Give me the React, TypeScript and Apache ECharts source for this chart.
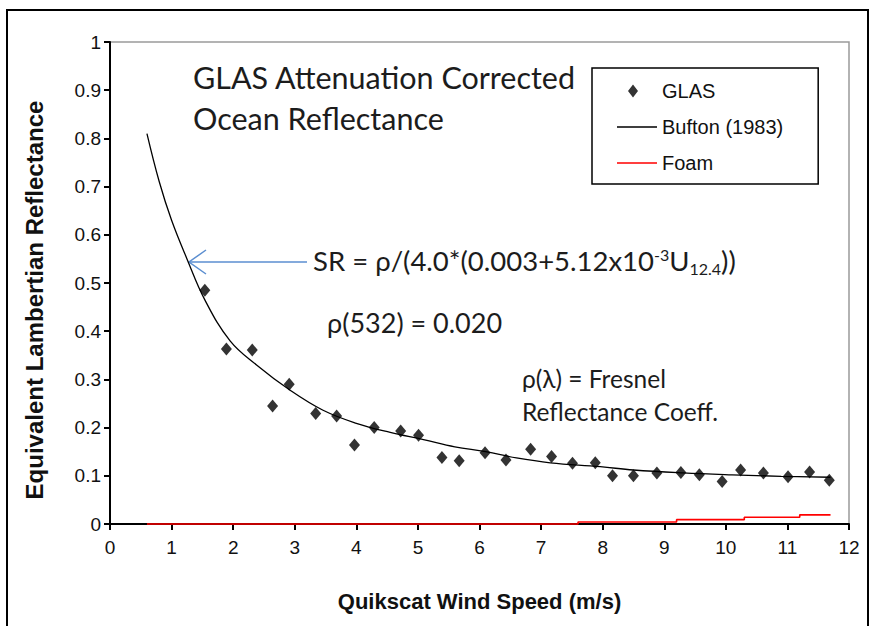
import React, { useEffect, useRef } from "react";
import * as echarts from "echarts";

// GLAS observations: [wind speed (m/s), reflectance]
const glasX = [1.54, 1.89, 2.31, 2.64, 2.91, 3.34, 3.68, 3.97, 4.29, 4.72, 5.01, 5.39, 5.67, 6.09, 6.43, 6.83, 7.17, 7.51, 7.88, 8.16, 8.5, 8.88, 9.27, 9.57, 9.94, 10.24, 10.61, 11.01, 11.36, 11.68];
const glasY = [0.485, 0.363, 0.361, 0.245, 0.29, 0.229, 0.224, 0.164, 0.2, 0.193, 0.184, 0.138, 0.131, 0.148, 0.133, 0.155, 0.14, 0.126, 0.127, 0.1, 0.1, 0.106, 0.107, 0.102, 0.088, 0.112, 0.106, 0.098, 0.108, 0.091];

// Bufton (1983) curve
const buftonX = [0.6, 0.8, 1.0, 1.25, 1.54, 1.95, 2.38, 2.92, 3.46, 4.0, 4.55, 5.09, 5.6, 6.1, 6.6, 7.15, 7.96, 8.5, 9.3, 10.1, 10.9, 11.7];
const buftonY = [0.81, 0.71, 0.63, 0.55, 0.465, 0.38, 0.33, 0.278, 0.236, 0.209, 0.19, 0.175, 0.16, 0.15, 0.137, 0.127, 0.119, 0.112, 0.106, 0.102, 0.099, 0.097];

// Foam curve
const foamX = [0.6, 7.6, 7.6, 9.2, 9.2, 10.3, 10.3, 11.2, 11.2, 11.7];
const foamY = [0, 0, 0.004, 0.004, 0.009, 0.009, 0.014, 0.014, 0.019, 0.019];

const xTicks = { min: 0, max: 12, interval: 1 };
const yTicks = { min: 0, max: 1, interval: 0.1 };

const zip = (xs: number[], ys: number[]) => xs.map((x, i) => [x, ys[i]]);

const TXT = "#1c1c1c";
const annFont = "Lato, 'Open Sans', sans-serif";
const axFont = "'Liberation Sans', Arial, sans-serif";

// legend icons: a full 40x14 bounding box so the drawn mark keeps its size
const lineIcon = "path://M0,0L0,0.01Z M0,6.3L40,6.3L40,7.7L0,7.7Z M40,14L40,13.99Z";
const diamondIcon = "path://M0,0L0,0.01Z M16,0.5L21,7L16,13.5L11,7Z M40,14L40,13.99Z";

export default function App() {
  const ref = useRef<HTMLDivElement>(null);
  useEffect(() => {
    if (!ref.current) return;
    const chart = echarts.init(ref.current, null, { renderer: "svg" });
    chart.setOption({
      animation: false,
      backgroundColor: "#fff",
      grid: {
        left: 110,
        right: 25,
        top: 42,
        bottom: 102,
        show: true,
        borderColor: "#9a9a9a",
        borderWidth: 1.5,
        backgroundColor: "transparent",
      },
      xAxis: {
        type: "value",
        ...xTicks,
        name: "Quikscat Wind Speed (m/s)",
        nameLocation: "middle",
        nameGap: 66,
        nameTextStyle: { fontFamily: axFont, fontWeight: "bold", fontSize: 22, color: "#111" },
        axisLine: { show: true, onZero: false, lineStyle: { color: "#000", width: 2 } },
        axisTick: { show: true, inside: false, length: 6, lineStyle: { color: "#000", width: 2 } },
        axisLabel: { fontFamily: axFont, fontSize: 19, color: "#111", margin: 14 },
        splitLine: { show: false },
      },
      yAxis: {
        type: "value",
        ...yTicks,
        name: "Equivalent Lambertian Reflectance",
        nameLocation: "middle",
        nameGap: 64,
        nameTextStyle: { fontFamily: axFont, fontWeight: "bold", fontSize: 24, color: "#111", padding: [0, 34, 0, 0] },
        axisLine: { show: true, onZero: false, lineStyle: { color: "#000", width: 2 } },
        axisTick: { show: true, inside: false, length: 6, lineStyle: { color: "#000", width: 2 } },
        axisLabel: { fontFamily: axFont, fontSize: 19, color: "#111", margin: 9 },
        splitLine: { show: false },
      },
      legend: {
        orient: "vertical",
        left: 592,
        top: 68,
        padding: [13, 35, 11, 25],
        itemGap: 16,
        itemWidth: 40,
        itemHeight: 14,
        borderColor: "#000",
        borderWidth: 1.5,
        backgroundColor: "#fff",
        textStyle: { fontFamily: axFont, fontSize: 20, color: "#111" },
        data: [
          { name: "GLAS", icon: diamondIcon, itemStyle: { color: "#000" } },
          { name: "Bufton (1983)", icon: lineIcon, itemStyle: { color: "#000" } },
          { name: "Foam", icon: lineIcon, itemStyle: { color: "#ff0000" } },
        ],
      },
      series: [
        {
          name: "Bufton (1983)",
          type: "line",
          data: zip(buftonX, buftonY),
          smooth: 0.4,
          symbol: "none",
          lineStyle: { color: "#000", width: 1.3 },
          itemStyle: { color: "#000" },
          z: 3,
        },
        {
          name: "Foam",
          type: "line",
          data: zip(foamX, foamY),
          symbol: "none",
          clip: false,
          lineStyle: { color: "#ff0000", width: 1.6 },
          itemStyle: { color: "#ff0000" },
          z: 4,
        },
        {
          name: "GLAS",
          type: "scatter",
          data: zip(glasX, glasY),
          symbol: "diamond",
          symbolSize: [11, 13],
          itemStyle: { color: "#000" },
          z: 5,
        },
      ],
      graphic: [
        {
          type: "rect",
          shape: { x: 7, y: 10, width: 861, height: 640 },
          style: { fill: "none", stroke: "#000", lineWidth: 2 },
          silent: true,
        },
        {
          type: "text",
          x: 193,
          y: 77,
          style: { text: "GLAS Attenuation Corrected", fontFamily: annFont, fontSize: 30.5, fill: TXT, verticalAlign: "middle" },
        },
        {
          type: "text",
          x: 193,
          y: 118,
          style: { text: "Ocean Reflectance", fontFamily: annFont, fontSize: 30.5, fill: TXT, verticalAlign: "middle" },
        },
        {
          type: "text",
          x: 313,
          y: 260,
          style: {
            text: "{m|SR = ρ/(4.0*(0.003+5.12x10}{sup|-3}{m|U}{sub|12.4}{m|))}",
            verticalAlign: "middle",
            rich: {
              m: { fontFamily: annFont, fontSize: 27.5, fill: TXT, lineHeight: 32, verticalAlign: "middle" },
              sup: { fontFamily: annFont, fontSize: 16, fill: TXT, lineHeight: 32, verticalAlign: "top", padding: [2, 0, 0, 0] },
              sub: { fontFamily: annFont, fontSize: 16, fill: TXT, lineHeight: 32, verticalAlign: "bottom" },
            },
          },
        },
        {
          type: "text",
          x: 327,
          y: 322,
          style: { text: "ρ(532) = 0.020", fontFamily: annFont, fontSize: 27, fill: TXT, verticalAlign: "middle" },
        },
        {
          type: "text",
          x: 522,
          y: 378,
          style: { text: "ρ(λ) = Fresnel", fontFamily: annFont, fontSize: 24.5, fill: TXT, verticalAlign: "middle" },
        },
        {
          type: "text",
          x: 522,
          y: 411,
          style: { text: "Reflectance Coeff.", fontFamily: annFont, fontSize: 24.5, fill: TXT, verticalAlign: "middle" },
        },
        {
          type: "line",
          shape: { x1: 307, y1: 262, x2: 189, y2: 262 },
          style: { stroke: "#5b8ed0", lineWidth: 1.5 },
        },
        {
          type: "polyline",
          shape: { points: [[206, 250], [189, 262], [206, 274]] },
          style: { stroke: "#5b8ed0", lineWidth: 1.5, fill: "none" },
        },
      ],
    });
    return () => chart.dispose();
  }, []);
  return <div ref={ref} style={{ width: 874, height: 626, position: "absolute", left: 0, top: 0 }} />;
}
